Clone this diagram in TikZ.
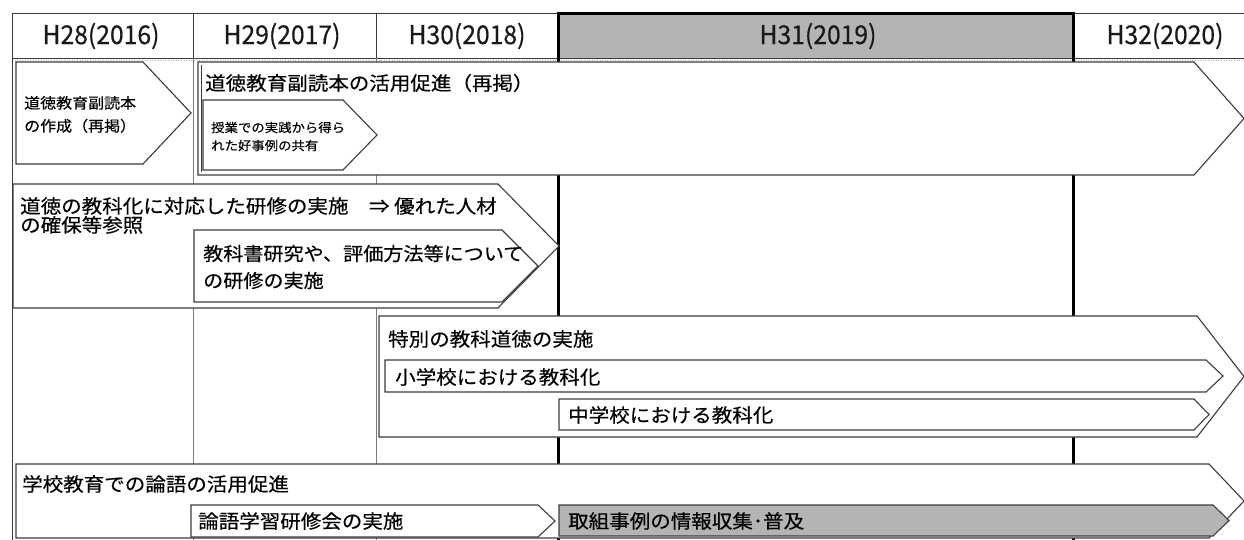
\documentclass[tikz,border=0pt]{standalone}
\usepackage{fontspec}
\newfontfamily\jp[FakeStretch=1.08,FakeBold=0.4]{Noto Sans CJK JP}
\newfontfamily\hd[FakeStretch=0.95,FakeBold=0.4]{Noto Sans CJK JP}
\definecolor{hdgray}{HTML}{B4B4B4}
\definecolor{ln}{HTML}{3C3C3C}
\definecolor{gridgray}{HTML}{7A7A7A}
\tikzset{
  arrowbox/.style={draw=ln, line width=1.1pt, fill=white, line join=miter},
  hdcell/.style={draw=ln, line width=0.9pt, fill=white},
  hdt/.style={font=\hd\fontsize{26}{30}\selectfont, text=black!90, inner sep=0},
  jt/.style={inner sep=0, anchor=west, align=left, text=black},
  big/.style={jt, font=\jp\fontsize{19}{19}\selectfont},
}
\newcommand\arr[6]{%
  \draw[arrowbox,#6] (#1,#2) -- (#3,#2) -- (#4,{(#2+#5)/2}) -- (#3,#5) -- (#1,#5) -- cycle;}
\begin{document}
\begin{tikzpicture}[x=1pt,y=-1pt]
\useasboundingbox (0,0) rectangle (1244,540);
% header
\draw[hdcell] (12,13) rectangle (193,58);
\draw[hdcell] (193,13) rectangle (376,58);
\draw[hdcell] (376,13) rectangle (558,58);
\draw[hdcell] (1073,13) rectangle (1252,58);
\fill[hdgray] (558,14) rectangle (1073,58);
\draw[ln, line width=0.9pt] (558,58) -- (1073,58);
\draw[black, line width=3pt] (558,58) -- (558,14) -- (1073,14) -- (1073,58);
\draw[gray!60, line width=0.6pt, dotted] (12,60.5) -- (1244,60.5);
\node[hdt] (h28) at (101,36) {H28(2016)};
\node[hdt] (h29) at (282,36) {H29(2017)};
\node[hdt] (h30) at (467,36) {H30(2018)};
\node[hdt] (h31) at (818,36) {H31(2019)};
\node[hdt] (h32) at (1165,36) {H32(2020)};
% grid lines
\draw[ln, line width=0.9pt] (12,58) -- (12,540);
\draw[gridgray, line width=0.8pt] (193,58) -- (193,540);
\draw[gridgray, line width=0.8pt] (376,58) -- (376,540);
\draw[black, line width=3pt] (558,58) -- (558,540);
\draw[black, line width=3pt] (1073,58) -- (1073,540);
% arrows
\arr{16}{62}{143}{191}{164}{}
\arr{198}{62}{1194}{1244}{175}{}
\draw[ln, line width=0.9pt] (201.5,65) -- (201.5,172);
\arr{203}{100}{343}{377}{170}{}
\arr{13}{184}{498}{559}{308}{}
\arr{194}{230}{502}{538}{302}{}
\arr{379}{316}{1197}{1244}{437}{}
\arr{385}{360}{1206}{1223}{392}{}
\arr{559}{399}{1194}{1209}{430}{}
\arr{16}{464}{1209}{1244}{538}{}
\arr{191}{505}{538}{555}{537}{}
\arr{559}{505}{1213}{1229}{536}{fill=hdgray}
% texts
\node[jt, font=\jp\fontsize{14.8}{23}\selectfont] (t1) at (24,114.5) {道徳教育副読本\\の作成（再掲）};
\node[big] (t2) at (205,83) {道徳教育副読本の活用促進（再掲）};
\node[jt, font=\jp\fontsize{12.4}{18}\selectfont] (t3) at (211,136.5) {授業での実践から得ら\\れた好事例の共有};
\node[jt, font=\jp\fontsize{19}{19}\selectfont] (t4) at (20,215.5) {道徳の教科化に対応した研修の実施　⇒ 優れた人材\\の確保等参照};
\node[jt, font=\jp\fontsize{18.6}{27}\selectfont] (t5) at (203,267) {教科書研究や、評価方法等について\\の研修の実施};
\node[big] (t6) at (388,339) {特別の教科道徳の実施};
\node[big] (t7) at (395,377) {小学校における教科化};
\node[big] (t8) at (568,415) {中学校における教科化};
\node[big] (t9) at (22,484) {学校教育での論語の活用促進};
\node[big] (t10) at (198,521) {論語学習研修会の実施};
\node[big] (t11) at (568,521) {取組事例の情報収集･普及};
\end{tikzpicture}
\end{document}
